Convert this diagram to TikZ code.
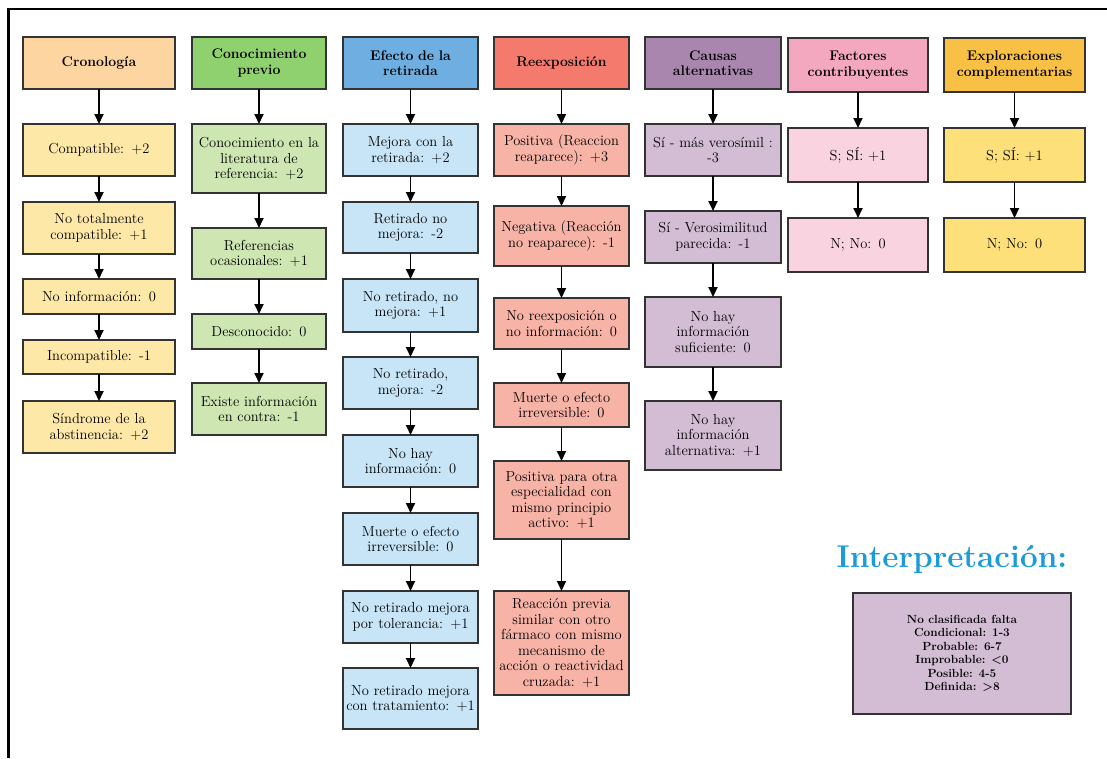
\documentclass[tikz,border=0pt]{standalone}
\usepackage{amsmath}
\usetikzlibrary{positioning,arrows.meta}

\definecolor{cronoH}{HTML}{FCD5A0}
\definecolor{cronoI}{HTML}{FDE8A8}
\definecolor{conoH}{HTML}{8FD16E}
\definecolor{conoI}{HTML}{CDE6B2}
\definecolor{efecH}{HTML}{6EAEE0}
\definecolor{efecI}{HTML}{C7E5F6}
\definecolor{reexH}{HTML}{F47A6E}
\definecolor{reexI}{HTML}{F8B3A7}
\definecolor{causH}{HTML}{A886AE}
\definecolor{causI}{HTML}{D3BDD5}
\definecolor{factH}{HTML}{F4A8C0}
\definecolor{factI}{HTML}{F9D3DF}
\definecolor{explH}{HTML}{F8C145}
\definecolor{explI}{HTML}{FDE07A}
\definecolor{interpC}{HTML}{1B9BD8}

\begin{document}
\begin{tikzpicture}[x=1pt,y=-1pt,
	box/.style = {draw=black!80, line width=1.4pt, align=center, inner sep=2pt, outer sep=0pt,
		font=\fontsize{14.5}{15.5}\selectfont},
	head/.style = {box, fill=#1, font=\bfseries\fontsize{14}{15.5}\selectfont},
	item/.style = {box, fill=#1},
	col1/.style = {text width=148pt}, col2/.style = {text width=130pt},
	col3/.style = {text width=131pt}, col4/.style = {text width=131pt},
	col5/.style = {text width=132pt}, col6/.style = {text width=136pt},
	col7/.style = {text width=137pt},
	arr/.style = {-{Triangle[width=9pt,length=10pt]}, line width=1.8pt}]
	
	\useasboundingbox (0,0) rectangle (1107,758);
	\draw[line width=2.2pt] (8.5,758) -- (8.5,9) -- (1107,9);
	
	% Cronologia
	\node[head=cronoH,col1,minimum height=52pt] (10) at (99,63) {Cronología};
	\node[item=cronoI,col1,minimum height=52pt] [below=35pt of 10] (11) {Compatible: +2};
	\node[item=cronoI,col1,minimum height=52pt] [below=26pt of 11] (12) {No totalmente\\compatible: +1};
	\node[item=cronoI,col1,minimum height=35pt] [below=25pt of 12] (13) {No información: 0};
	\node[item=cronoI,col1,minimum height=34pt] [below=26pt of 13] (14) {Incompatible: -1};
	\node[item=cronoI,col1,minimum height=52pt] [below=27pt of 14] (15) {Síndrome de la\\abstinencia: +2};
	
	% Conocimiento previo
	\node[head=conoH,col2,minimum height=52pt] (20) at (259,63) {Conocimiento\\previo};
	\node[item=conoI,col2,minimum height=69pt] [below=35pt of 20] (21) {Conocimiento en la\\literatura de\\referencia: +2};
	\node[item=conoI,col2,minimum height=51pt] [below=35pt of 21] (22) {Referencias\\ocasionales: +1};
	\node[item=conoI,col2,minimum height=35pt] [below=35pt of 22] (23) {Desconocido: 0};
	\node[item=conoI,col2,minimum height=52pt] [below=34pt of 23] (24) {Existe información\\en contra: -1};
	
	% Efecto de la retirada
	\node[head=efecH,col3,minimum height=52pt] (30) at (410.5,63) {Efecto de la\\retirada};
	\node[item=efecI,col3,minimum height=52pt] [below=35pt of 30] (31) {Mejora con la\\retirada: +2};
	\node[item=efecI,col3,minimum height=51pt] [below=26pt of 31] (32) {Retirado no\\mejora: -2};
	\node[item=efecI,col3,minimum height=53pt] [below=26pt of 32] (33) {No retirado, no\\mejora: +1};
	\node[item=efecI,col3,minimum height=52pt] [below=25pt of 33] (34) {No retirado,\\mejora: -2};
	\node[item=efecI,col3,minimum height=52pt] [below=26pt of 34] (35) {No hay\\información: 0};
	\node[item=efecI,col3,minimum height=52pt] [below=26pt of 35] (36) {Muerte o efecto\\irreversible: 0};
	\node[item=efecI,col3,minimum height=52pt] [below=26pt of 36] (37) {No retirado mejora\\por tolerancia: +1};
	\node[item=efecI,col3,minimum height=61pt] [below=25pt of 37] (38) {No retirado mejora\\con tratamiento: +1};
	
	% Reexposicion
	\node[head=reexH,col4,minimum height=52pt] (40) at (561.5,63) {Reexposición};
	\node[item=reexI,col4,minimum height=52pt] [below=35pt of 40] (41) {Positiva (Reaccion\\reaparece): +3};
	\node[item=reexI,col4,minimum height=60pt] [below=30pt of 41] (42) {Negativa (Reacción\\no reaparece): -1};
	\node[item=reexI,col4,minimum height=51pt] [below=32pt of 42] (43) {No reexposición o\\no información: 0};
	\node[item=reexI,col4,minimum height=44pt] [below=34pt of 43] (44) {Muerte o efecto\\irreversible: 0};
	\node[item=reexI,col4,minimum height=78pt] [below=34pt of 44] (45) {Positiva para otra\\especialidad con\\mismo principio\\activo: +1};
	\node[item=reexI,col4,minimum height=104pt] [below=52pt of 45] (46) {Reacción previa\\similar con otro\\fármaco con mismo\\mecanismo de\\acción o reactividad\\cruzada: +1};
	
	% Causas alternativas
	\node[head=causH,col5,minimum height=52pt] (50) at (713,63) {Causas\\alternativas};
	\node[item=causI,col5,minimum height=52pt] [below=35pt of 50] (51) {Sí - más verosímil :\\-3};
	\node[item=causI,col5,minimum height=52pt] [below=35pt of 51] (52) {Sí - Verosimilitud\\parecida: -1};
	\node[item=causI,col5,minimum height=70pt] [below=34pt of 52] (53) {No hay\\información\\suficiente: 0};
	\node[item=causI,col5,minimum height=69pt] [below=34pt of 53] (54) {No hay\\información\\alternativa: +1};
	
	% Factores contribuyentes
	\node[head=factH,col6,minimum height=54pt] (60) at (858,65) {Factores\\contribuyentes};
	\node[item=factI,col6,minimum height=54pt] [below=36pt of 60] (61) {S; SÍ: +1};
	\node[item=factI,col6,minimum height=54pt] [below=36pt of 61] (62) {N; No: 0};
	
	% Exploraciones complementarias
	\node[head=explH,col7,minimum height=54pt] (70) at (1014.5,65) {Exploraciones\\complementarias};
	\node[item=explI,col7,minimum height=54pt] [below=36pt of 70] (71) {S; SÍ: +1};
	\node[item=explI,col7,minimum height=54pt] [below=36pt of 71] (72) {N; No: 0};
	
	% Interpretacion
	\node[text=interpC,font=\bfseries\fontsize{31.5}{34}\selectfont] (80) at (952,559) {Interpretación:};
	\node[item=causI,minimum width=218pt,minimum height=121pt,
		font=\bfseries\fontsize{11.8}{13.5}\selectfont] (81) at (962,653.5)
		{No clasificada falta\\Condicional: 1-3\\Probable: 6-7\\Improbable: <0\\Posible: 4-5\\Definida: >8};
	
	\path[arr]
	(10) edge (11) (11) edge (12) (12) edge (13) (13) edge (14) (14) edge (15)
	(20) edge (21) (21) edge (22) (22) edge (23) (23) edge (24)
	(30) edge (31) (31) edge (32) (32) edge (33) (33) edge (34)
	(34) edge (35) (35) edge (36) (36) edge (37) (37) edge (38)
	(40) edge (41) (41) edge (42) (42) edge (43) (43) edge (44)
	(44) edge (45) (45) edge (46)
	(50) edge (51) (51) edge (52) (52) edge (53) (53) edge (54)
	(60) edge (61) (61) edge (62)
	(70) edge (71) (71) edge (72);
\end{tikzpicture}
\end{document}
